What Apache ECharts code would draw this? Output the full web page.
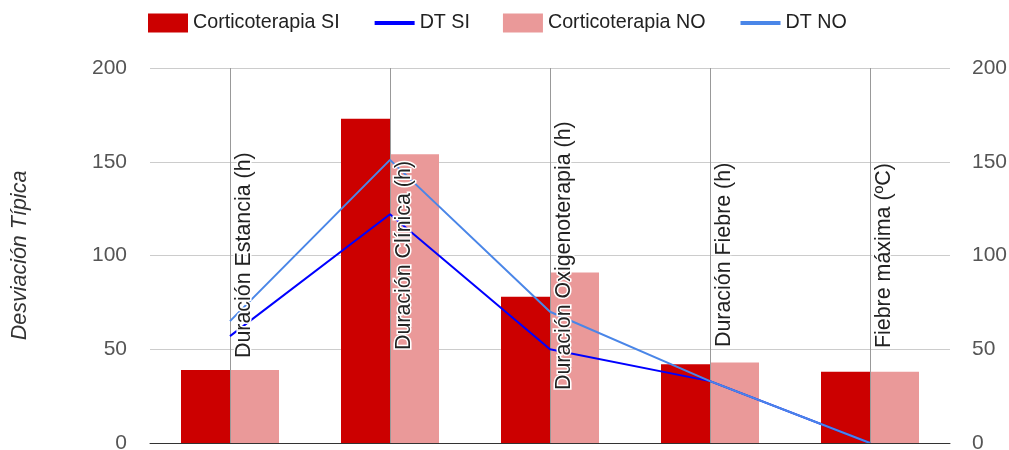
<!DOCTYPE html>
<html>
<head>
<meta charset="utf-8">
<script src="https://cdn.jsdelivr.net/npm/echarts@6/dist/echarts.min.js"></script>
<style>
html,body{margin:0;padding:0;background:#fff;}
#chart{width:1009px;height:450px;}
</style>
</head>
<body>
<div id="chart"></div>
<script>
const categories = ['Duración Estancia (h)', 'Duración Clínica (h)', 'Duración Oxigenoterapia (h)', 'Duración Fiebre (h)', 'Fiebre máxima (ºC)'];
const corticoSI = [39, 173, 78, 42, 38];
const corticoNO = [39, 154, 91, 43, 38];
const dtSI = [57, 122, 50, 33, 0];
const dtNO = [65, 151, 70, 33, 0];
const yMin = 0, yMax = 200, yInterval = 50;
const yAxisTitle = 'Desviación Típica';
const seriesNames = ['Corticoterapia SI', 'DT SI', 'Corticoterapia NO', 'DT NO'];

const FONT = 'Liberation Sans, Arial, sans-serif';
// per-category label lift (style only)
const labelLift = [32, 40, 0, 43, 42];

const chart = echarts.init(document.getElementById('chart'), null, {renderer: 'canvas'});
const option = {
  animation: false,
  backgroundColor: '#fff',
  textStyle: {fontFamily: FONT},
  legend: {
    left: 143, top: 8,
    itemWidth: 40, itemHeight: 19, itemGap: 33,
    textStyle: {fontFamily: FONT, fontSize: 19.7, color: '#222'},
    data: [
      {name: seriesNames[0], icon: 'rect'},
      {name: seriesNames[1], lineStyle: {width: 4}, itemStyle: {opacity: 0}},
      {name: seriesNames[2], icon: 'rect'},
      {name: seriesNames[3], lineStyle: {width: 4}, itemStyle: {opacity: 0}}
    ]
  },
  grid: {left: 150, right: 59, top: 68, bottom: 7, outerBoundsMode: 'none'},
  xAxis: {
    type: 'category',
    data: categories.map((c, i) => ({value: c, textStyle: {padding: [0, 0, 0, labelLift[i]]}})),
    z: 10,
    axisLine: {show: true, lineStyle: {color: '#333', width: 1}},
    axisTick: {show: false},
    splitLine: {show: false},
    axisLabel: {
      inside: true, rotate: 90, margin: 53, interval: 0,
      formatter: v => '\n' + v,
      lineHeight: 28,
      fontFamily: FONT, fontSize: 21.4, color: '#222',
      textBorderColor: '#fff', textBorderWidth: 3
    }
  },
  yAxis: [
    {
      type: 'value', min: yMin, max: yMax, interval: yInterval,
      name: yAxisTitle, nameLocation: 'middle', nameGap: 119,
      nameTextStyle: {fontFamily: FONT, fontSize: 21.5, fontStyle: 'italic', color: '#333'},
      axisLine: {show: false}, axisTick: {show: false},
      axisLabel: {margin: 23, fontFamily: FONT, fontSize: 21, color: '#555'},
      splitLine: {lineStyle: {color: '#ccc', width: 1}}
    },
    {
      type: 'value', min: yMin, max: yMax, interval: yInterval,
      axisLine: {show: false}, axisTick: {show: false},
      axisLabel: {margin: 22, fontFamily: FONT, fontSize: 21, color: '#555'},
      splitLine: {show: false}
    }
  ],
  series: [
    {
      name: seriesNames[0], type: 'bar', data: corticoSI,
      barWidth: 49, barGap: '0%',
      itemStyle: {color: '#cc0000'}
    },
    {
      name: seriesNames[2], type: 'bar', data: corticoNO,
      barWidth: 49, barGap: '0%',
      itemStyle: {color: '#ea9999'}
    },
    {
      name: seriesNames[1], type: 'line', yAxisIndex: 1, data: dtSI,
      symbol: 'none', lineStyle: {color: '#0000ff', width: 2}, itemStyle: {color: '#0000ff'}, z: 5,
      markLine: {
        silent: true, symbol: 'none', label: {show: false},
        lineStyle: {color: '#999', type: 'solid', width: 1},
        data: categories.map(c => ({xAxis: c}))
      }
    },
    {
      name: seriesNames[3], type: 'line', yAxisIndex: 1, data: dtNO,
      symbol: 'none', lineStyle: {color: '#4a86e8', width: 2}, itemStyle: {color: '#4a86e8'}, z: 5
    }
  ]
};
chart.setOption(option);
</script>
</body>
</html>
